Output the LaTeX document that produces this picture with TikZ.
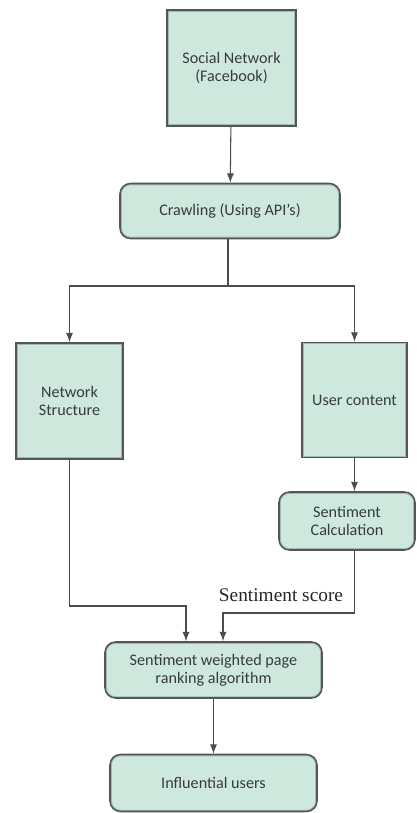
\documentclass[tikz,border=0pt]{standalone}
\usepackage{fontspec}
\setmainfont{Carlito}
\newfontfamily\scorefont{Liberation Serif}
\usetikzlibrary{arrows.meta}
\definecolor{mint}{RGB}{207,232,222}
\definecolor{mintedge}{RGB}{160,188,176}
\definecolor{boxline}{RGB}{85,85,85}
\definecolor{boxtext}{RGB}{55,60,58}
\tikzset{
  flowbox/.style={draw=boxline, line width=1.3pt, fill=mint, align=center,
    text=boxtext, font=\fontsize{13.8}{15.5}\selectfont, inner sep=0pt,
    path picture={\draw[mintedge, line width=3pt]
      (path picture bounding box.south west) rectangle (path picture bounding box.north east);}},
  squarebox/.style={flowbox},
  roundbox/.style={flowbox, rounded corners=9pt},
  flow/.style={-{Latex[length=8pt,width=6pt]}, draw=black!70, line width=0.9pt},
  link/.style={draw=black!70, line width=0.9pt}
}
\begin{document}
\begin{tikzpicture}
    \def\x{0.03}
    \def\y{-0.03}
    \useasboundingbox (0,0) rectangle (416*\x, 813*\y);
    \node[squarebox, minimum width=129*\x cm, minimum height=116*\x cm] (social) at (231.5*\x, 68*\y) {Social Network\\(Facebook)};
    \node[roundbox, minimum width=220*\x cm, minimum height=55*\x cm] (crawl) at (230*\x, 211*\y) {Crawling (Using API's)};
    \node[squarebox, minimum width=107*\x cm, minimum height=116*\x cm] (netstruct) at (69.5*\x, 401*\y) {Network\\Structure};
    \node[squarebox, minimum width=105*\x cm, minimum height=115*\x cm] (usercont) at (354.5*\x, 400*\y) {User content};
    \node[roundbox, minimum width=136*\x cm, minimum height=58*\x cm] (sentcalc) at (347*\x, 521*\y) {Sentiment\\Calculation};
    \node[roundbox, minimum width=217*\x cm, minimum height=56*\x cm] (ranking) at (213.5*\x, 670*\y) {Sentiment weighted page\\ranking algorithm};
    \node[roundbox, minimum width=207*\x cm, minimum height=57*\x cm] (influential) at (213.5*\x, 783*\y) {Influential users};
    \node[text=black!85, font=\scorefont\fontsize{16.5}{18}\selectfont] (score) at (281*\x, 595*\y) {Sentiment score};
    % bends of the connectors
    \coordinate (split) at (228*\x, 286*\y);
    \coordinate (bendL) at (186*\x, 606*\y);
    \coordinate (bendR) at (223*\x, 613*\y);
    \draw[flow] (social) -- (crawl);
    \draw[link] (crawl.south -| split) -- (split);
    \draw[flow] (split) -| (netstruct.north);
    \draw[flow] (split) -| (usercont.north);
    \draw[flow] (usercont.south) -- (usercont.south |- sentcalc.north);
    \draw[flow] (netstruct.south) |- (bendL) -- (bendL |- ranking.north);
    \draw[flow] (usercont.south |- sentcalc.south) |- (bendR) -- (bendR |- ranking.north);
    \draw[flow] (ranking) -- (influential);
\end{tikzpicture}
\end{document}
